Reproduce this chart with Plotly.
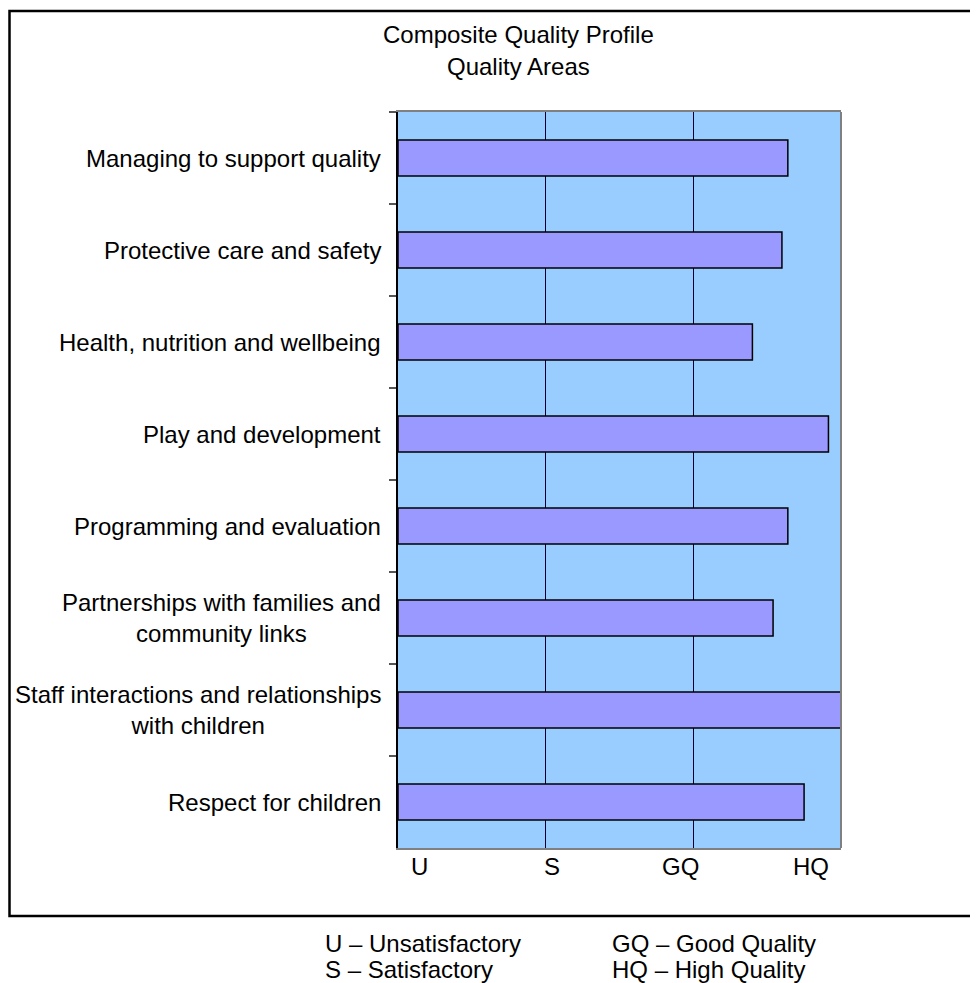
import plotly.graph_objects as go

categories = [
    "Managing to support quality",
    "Protective care and safety",
    "Health, nutrition and wellbeing",
    "Play and development",
    "Programming and evaluation",
    "Partnerships with families and<br>community links",
    "Staff interactions and relationships<br>with children",
    "Respect for children",
]
scores = [2.64, 2.60, 2.40, 2.915, 2.64, 2.54, 3.0, 2.75]

tick_positions = [0.145, 1.04, 1.91, 2.80]
tick_labels = ["U", "S", "GQ", "HQ"]
grid_values = [1, 2]

title_lines = ["Composite Quality Profile", "Quality Areas"]
key_left = ["U – Unsatisfactory", "S – Satisfactory"]
key_right = ["GQ – Good Quality", "HQ – High Quality"]

OFF = 8  # page margin of the browser
W, H = 978 - OFF, 983 - OFF
# plot area in screen pixels
L, R, T, B = 398, 841, 112, 848
FONT = "Liberation Sans, Arial, sans-serif"
FS = 24


def px(x):
    return (x - L) / (R - L)


def py(y):
    return (B - y) / (B - T)


fig = go.Figure()
fig.add_trace(go.Bar(
    x=scores, y=categories, orientation="h",
    marker=dict(color="#9999FF", line=dict(color="#000000", width=1.5)),
    showlegend=False,
))

annotations = []
for cat in categories:
    annotations.append(dict(
        x=px(383), xref="paper", y=cat, yref="y", text=cat,
        showarrow=False, xanchor="right", yanchor="middle", align="center",
        font=dict(family=FONT, size=FS, color="#000000"),
    ))
for v, t in zip(tick_positions, tick_labels):
    annotations.append(dict(
        x=v, xref="x", y=py(866), yref="paper", text=t,
        showarrow=False, xanchor="center", yanchor="middle",
        font=dict(family=FONT, size=FS, color="#000000"),
    ))
for i, t in enumerate(title_lines):
    annotations.append(dict(
        x=px(518), xref="paper", y=py(34 + 32 * i), yref="paper", text=t,
        showarrow=False, xanchor="center", yanchor="middle",
        font=dict(family=FONT, size=FS, color="#000000"),
    ))
for i, t in enumerate(key_left):
    annotations.append(dict(
        x=px(323), xref="paper", y=py(943 + 26 * i), yref="paper", text=t,
        showarrow=False, xanchor="left", yanchor="middle",
        font=dict(family=FONT, size=FS, color="#000000"),
    ))
for i, t in enumerate(key_right):
    annotations.append(dict(
        x=px(610), xref="paper", y=py(943 + 26 * i), yref="paper", text=t,
        showarrow=False, xanchor="left", yanchor="middle",
        font=dict(family=FONT, size=FS, color="#000000"),
    ))

shapes = [
    dict(type="rect", xref="paper", yref="paper",
         x0=px(9.5), x1=px(1000), y0=py(916), y1=py(11),
         line=dict(color="#000000", width=2.5), layer="above"),
    dict(type="line", xref="paper", yref="paper",
         x0=1, x1=1, y0=0, y1=1,
         line=dict(color="#808080", width=2), layer="above"),
]

fig.update_layout(
    width=W, height=H,
    margin=dict(l=L - OFF, r=W - (R - OFF), t=T - OFF, b=H - (B - OFF), pad=0),
    paper_bgcolor="#FFFFFF",
    plot_bgcolor="#99CCFF",
    bargap=0.61,
    annotations=annotations,
    shapes=shapes,
    font=dict(family=FONT, size=FS, color="#000000"),
    xaxis=dict(
        range=[0, 3], tickvals=tick_positions, ticktext=tick_labels,
        showticklabels=False, ticks="", showgrid=False, zeroline=False,
        showline=True, linecolor="#808080", linewidth=2, mirror=True,
        minor=dict(tickvals=grid_values, showgrid=True,
                   gridcolor="#000033", gridwidth=1, ticks=""),
    ),
    yaxis=dict(
        type="category", autorange="reversed",
        showticklabels=False, ticks="outside", tickson="boundaries",
        ticklen=7, tickcolor="#555555", tickwidth=1.5,
        showgrid=False, zeroline=False,
        showline=True, linecolor="#000000", linewidth=1.5,
    ),
)

fig.write_html("out.html")
